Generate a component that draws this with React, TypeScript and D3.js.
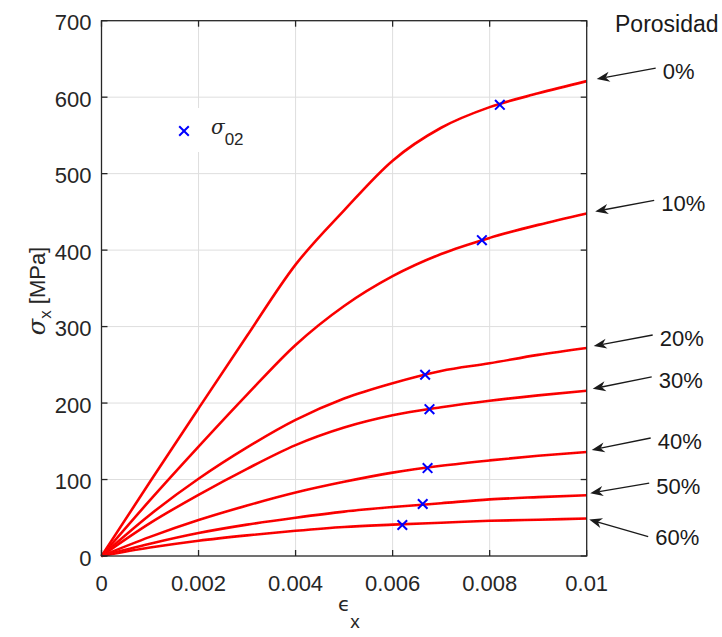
import React, { useRef, useEffect } from 'react';
import * as d3 from 'd3';

// strain grid shared by all curves
const strain = [0, 0.001, 0.002, 0.003, 0.004, 0.005, 0.006, 0.007, 0.008, 0.009, 0.01];

// stress [MPa] for each porosity level
const stressP0 = [0, 97, 193, 288, 381, 452, 517, 560, 587, 605, 621];
const stressP10 = [0, 73, 143, 211, 276, 327, 366, 395, 416, 433, 448];
const stressP20 = [0, 54, 101, 142, 178, 206, 226, 242, 252, 263, 272];
const stressP30 = [0, 43, 80, 114, 145, 168, 184, 194.5, 203, 210, 216];
const stressP40 = [0, 25, 47, 66, 83, 97, 109, 118, 125, 131, 136];
const stressP50 = [0, 16, 30, 41, 50, 58, 64, 69, 74, 77, 79.5];
const stressP60 = [0, 11, 20, 27, 33, 38, 41, 43.5, 46, 47.5, 49];

const porosityLabels = ['0%', '10%', '20%', '30%', '40%', '50%', '60%'];

// sigma_02 points
const yieldStrain = [0.00821, 0.00784, 0.00667, 0.00676, 0.00672, 0.00662, 0.0062];
const yieldStress = [590, 413, 237, 192, 115, 68, 40.5];

const xTicks = [0, 0.002, 0.004, 0.006, 0.008, 0.01];
const xTickLabels = ['0', '0.002', '0.004', '0.006', '0.008', '0.01'];
const yTicks = [0, 100, 200, 300, 400, 500, 600, 700];

// arrow placement tweaks (pixels)
const arrowTipDx = [10, 8.5, 7, 6, 5, 3.5, 2.5];
const arrowRise = [11, 11, 11, 12, 12, 10, -17];

const WIDTH = 722;
const HEIGHT = 637;
const FONT = '"Liberation Sans", Arial, Helvetica, sans-serif';
const INK = '#262626';

const App = () => {
  const svgRef = useRef<SVGSVGElement | null>(null);

  useEffect(() => {
    if (!svgRef.current) return;
    const svg = d3.select(svgRef.current);
    svg.selectAll('*').remove();

    const left = 101.5;
    const right = 586.7;
    const top = 20.7;
    const bottom = 556;

    const x = d3.scaleLinear().domain([0, 0.01]).range([left, right]);
    const y = d3.scaleLinear().domain([0, 700]).range([bottom, top]);

    const series = [stressP0, stressP10, stressP20, stressP30, stressP40, stressP50, stressP60];

    svg.append('rect')
      .attr('width', WIDTH)
      .attr('height', HEIGHT)
      .attr('fill', '#fff');

    // grid
    const grid = svg.append('g').attr('stroke', '#dedede').attr('stroke-width', 1);
    xTicks.slice(1, -1).forEach(t => {
      grid.append('line')
        .attr('x1', x(t)).attr('x2', x(t))
        .attr('y1', top).attr('y2', bottom);
    });
    yTicks.slice(1, -1).forEach(t => {
      grid.append('line')
        .attr('x1', left).attr('x2', right)
        .attr('y1', y(t)).attr('y2', y(t));
    });

    // legend background (covers grid)
    svg.append('rect')
      .attr('x', 173).attr('y', 108)
      .attr('width', 78).attr('height', 44)
      .attr('fill', '#fff');

    // curves
    const line = d3.line<number>()
      .x((d, i) => x(strain[i]))
      .y(d => y(d))
      .curve(d3.curveMonotoneX);

    series.forEach(s => {
      svg.append('path')
        .attr('d', line(s))
        .attr('fill', 'none')
        .attr('stroke', '#ff0000')
        .attr('stroke-width', 2.6)
        .attr('stroke-linejoin', 'round');
      svg.append('path')
        .attr('d', line(s))
        .attr('fill', 'none')
        .attr('stroke', '#b00000')
        .attr('stroke-width', 0.8)
        .attr('stroke-dasharray', '1,2')
        .attr('opacity', 0.6);
    });

    // sigma_02 markers
    const cross = (g: any, cx: number, cy: number) => {
      const r = 4.8;
      g.append('path')
        .attr('d', `M${cx - r},${cy - r}L${cx + r},${cy + r}M${cx - r},${cy + r}L${cx + r},${cy - r}`)
        .attr('stroke', '#0000ff')
        .attr('stroke-width', 2)
        .attr('fill', 'none');
    };
    yieldStrain.forEach((e, i) => cross(svg, x(e), y(yieldStress[i])));

    // frame and ticks
    const tickLen = 6;
    const frame = svg.append('g').attr('stroke', INK).attr('stroke-width', 1.3);
    frame.append('rect')
      .attr('x', left).attr('y', top)
      .attr('width', right - left).attr('height', bottom - top)
      .attr('fill', 'none');
    xTicks.forEach(t => {
      frame.append('line').attr('x1', x(t)).attr('x2', x(t)).attr('y1', bottom).attr('y2', bottom - tickLen);
      frame.append('line').attr('x1', x(t)).attr('x2', x(t)).attr('y1', top).attr('y2', top + tickLen);
    });
    yTicks.forEach(t => {
      frame.append('line').attr('x1', left).attr('x2', left + tickLen).attr('y1', y(t)).attr('y2', y(t));
      frame.append('line').attr('x1', right).attr('x2', right - tickLen).attr('y1', y(t)).attr('y2', y(t));
    });

    // tick labels
    const labels = svg.append('g')
      .attr('font-family', FONT)
      .attr('font-size', 22)
      .attr('fill', INK);
    xTicks.forEach((t, i) => {
      labels.append('text')
        .attr('x', x(t))
        .attr('y', 591)
        .attr('text-anchor', 'middle')
        .text(xTickLabels[i]);
    });
    yTicks.forEach(t => {
      labels.append('text')
        .attr('x', left - 10)
        .attr('y', y(t) + 9.5)
        .attr('text-anchor', 'end')
        .text(String(t));
    });

    // axis titles
    const xTitle = svg.append('text')
      .attr('x', 338)
      .attr('y', 611)
      .attr('font-family', FONT)
      .attr('font-size', 20)
      .attr('fill', INK);
    xTitle.append('tspan').attr('font-family', '"DejaVu Sans", sans-serif').text('ϵ');
    xTitle.append('tspan').attr('dy', 17).attr('font-size', 19).text('x');

    const yTitle = svg.append('text')
      .attr('transform', 'translate(45,291) rotate(-90)')
      .attr('text-anchor', 'middle')
      .attr('font-family', FONT)
      .attr('font-size', 22)
      .attr('fill', INK);
    yTitle.append('tspan').attr('font-style', 'italic').attr('font-family', '"DejaVu Serif", serif').attr('font-size', 24).text('σ');
    yTitle.append('tspan').attr('dy', 6).attr('font-size', 17).text('x');
    yTitle.append('tspan').attr('dy', -6).text(' [MPa]');

    // legend
    cross(svg, 184, 131);
    const leg = svg.append('text')
      .attr('x', 211)
      .attr('y', 134)
      .attr('font-family', FONT)
      .attr('font-size', 20)
      .attr('fill', INK);
    leg.append('tspan').attr('font-style', 'italic').attr('font-family', '"DejaVu Serif", serif').text('σ');
    leg.append('tspan').attr('dy', 11).attr('font-size', 17).text('02');

    // porosity annotations
    svg.append('text')
      .attr('x', 615)
      .attr('y', 32)
      .attr('font-family', FONT)
      .attr('font-size', 23)
      .attr('fill', '#1a1a1a')
      .text('Porosidad');

    series.forEach((s, i) => {
      const endY = y(s[s.length - 1]);
      const tipX = right + arrowTipDx[i];
      const tipY = endY + (arrowRise[i] > 0 ? -2 : 1);
      const tailX = tipX + 59;
      const tailY = tipY - arrowRise[i];
      const ang = Math.atan2(tipY - tailY, tipX - tailX);
      const len = 13;
      const half = 5;
      const bx = tipX - Math.cos(ang) * len;
      const by = tipY - Math.sin(ang) * len;
      const nx = tipX - Math.cos(ang) * len * 0.7;
      const ny = tipY - Math.sin(ang) * len * 0.7;
      const px = -Math.sin(ang) * half;
      const py = Math.cos(ang) * half;

      svg.append('line')
        .attr('x1', tailX).attr('y1', tailY)
        .attr('x2', nx).attr('y2', ny)
        .attr('stroke', '#1a1a1a')
        .attr('stroke-width', 1.3);
      svg.append('path')
        .attr('d', `M${tipX},${tipY}L${bx + px},${by + py}L${nx},${ny}L${bx - px},${by - py}Z`)
        .attr('fill', '#1a1a1a');

      svg.append('text')
        .attr('x', tailX + 7)
        .attr('y', tailY + (arrowRise[i] > 0 ? 11 : 8))
        .attr('font-family', FONT)
        .attr('font-size', 22)
        .attr('fill', '#1a1a1a')
        .text(porosityLabels[i]);
    });
  }, []);

  return (
    <svg
      ref={svgRef}
      width={WIDTH}
      height={HEIGHT}
      style={{ position: 'absolute', left: 0, top: 0, display: 'block' }}
    />
  );
};

export default App;
